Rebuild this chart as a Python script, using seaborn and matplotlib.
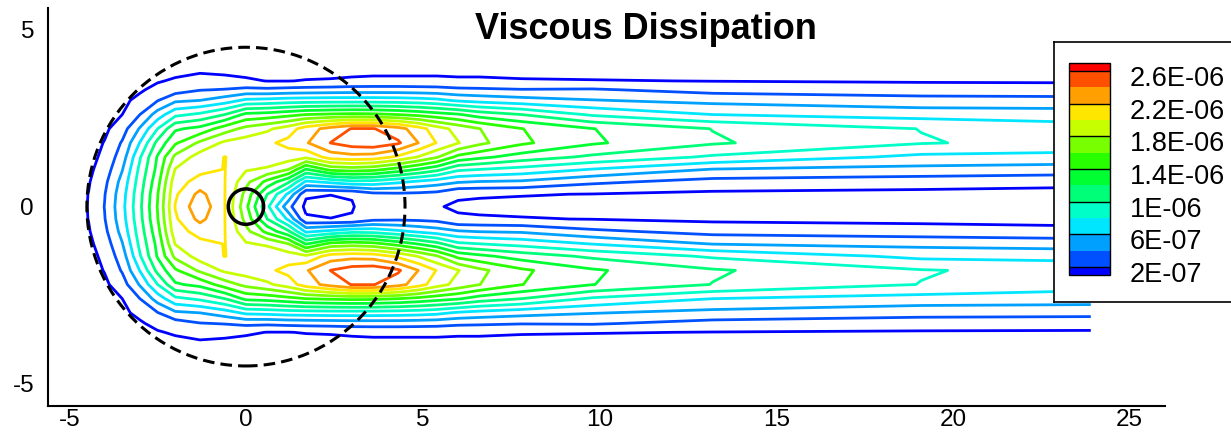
## [--Contorno de dissipacao viscosa--] ##

## Importacoes
import numpy as np
import matplotlib
matplotlib.use('Agg')
import matplotlib.pyplot as plt
import seaborn as sns
from matplotlib.colors import ListedColormap, BoundaryNorm
from matplotlib.cm import ScalarMappable
from matplotlib.patches import Circle
from matplotlib.transforms import ScaledTranslation

## Dados (metade superior, campo simetrico em y)
# valores em unidades de 1E-07
x_nodes = [-6.0, -4.9, -4.45, -4.0, -3.5, -3.0, -2.5, -2.0, -1.3, -0.6, 0.0, 0.6,
           1.2, 1.7, 2.4, 3.0, 3.6, 4.3, 4.9, 5.4, 6.0, 6.6, 7.8, 9.8, 13.2, 19.1, 23.9]
y_nodes = [0.0, 0.35, 0.7, 1.05, 1.4, 1.8, 2.2, 2.6, 3.0, 3.3, 3.55, 3.8, 4.2, 4.8, 5.6]

# um perfil em y para cada estacao x
z_profiles = [
    [0.5, 0.5, 0.45, 0.45, 0.4, 0.35, 0.3, 0.3, 0.25, 0.25, 0.2, 0.2, 0.2, 0.15, 0.1],
    [1.0, 0.98, 0.9, 0.8, 0.7, 0.6, 0.5, 0.45, 0.4, 0.35, 0.3, 0.3, 0.25, 0.2, 0.15],
    [2.1, 2.05, 1.85, 1.6, 1.3, 1.1, 0.9, 0.75, 0.6, 0.5, 0.45, 0.4, 0.35, 0.25, 0.2],
    [4.05, 3.9, 3.5, 2.9, 2.5, 2.1, 1.6, 1.25, 1.0, 0.85, 0.7, 0.6, 0.5, 0.35, 0.25],
    [7.4, 7.2, 6.7, 5.9, 5.0, 4.2, 3.1, 2.0, 1.5, 1.2, 1.0, 0.85, 0.7, 0.5, 0.3],
    [11.6, 11.4, 11.0, 10.5, 9.8, 8.1, 6.2, 4.0, 2.6, 1.7, 1.3, 1.0, 0.8, 0.55, 0.35],
    [16.1, 15.9, 15.3, 14.6, 14.2, 12.6, 10.0, 6.9, 3.9, 2.7, 1.8, 1.3, 0.9, 0.6, 0.4],
    [22.1, 21.7, 21.2, 20.1, 18.5, 15.7, 13.7, 9.5, 5.6, 3.1, 2.3, 1.5, 1.0, 0.65, 0.4],
    [25.5, 24.6, 22.7, 21.5, 20.9, 18.4, 14.6, 10.4, 6.0, 3.9, 2.6, 1.9, 1.2, 0.7, 0.45],
    [22.05, 22.05, 22.05, 22.05, 22.05, 20.4, 17.0, 12.0, 7.0, 4.1, 2.6, 1.7, 1.1, 0.65, 0.4],
    [16.5, 17.3, 18.6, 20.2, 21.2, 21.0, 18.6, 14.5, 8.4, 4.5, 2.3, 1.5, 1.0, 0.6, 0.4],
    [10.5, 12.0, 15.4, 19.7, 21.3, 21.6, 19.6, 14.8, 8.6, 4.4, 1.95, 1.4, 0.95, 0.6, 0.4],
    [4.6, 7.6, 12.3, 18.0, 21.0, 22.6, 21.0, 15.4, 8.9, 4.6, 1.95, 1.3, 0.9, 0.55, 0.35],
    [1.5, 2.3, 7.6, 13.8, 20.4, 23.8, 23.0, 16.0, 9.0, 4.7, 2.1, 1.4, 0.95, 0.6, 0.35],
    [1.4, 2.05, 8.5, 16.6, 22.9, 26.05, 24.8, 16.3, 9.1, 4.8, 2.2, 1.4, 0.95, 0.6, 0.35],
    [1.9, 2.1, 9.4, 17.0, 23.3, 27.0, 26.1, 16.5, 9.1, 4.9, 2.4, 1.5, 1.0, 0.6, 0.35],
    [2.8, 3.4, 9.3, 16.6, 23.1, 27.3, 26.1, 16.4, 9.1, 4.9, 2.5, 1.6, 1.0, 0.6, 0.35],
    [3.0, 3.6, 8.4, 15.2, 21.6, 26.3, 24.8, 16.0, 9.0, 4.9, 2.5, 1.6, 1.0, 0.6, 0.35],
    [2.7, 3.5, 7.6, 13.8, 19.8, 23.9, 22.8, 15.4, 8.8, 4.8, 2.5, 1.6, 1.0, 0.6, 0.35],
    [2.1, 3.3, 7.0, 12.6, 18.2, 21.9, 20.9, 14.8, 8.5, 4.7, 2.5, 1.6, 1.0, 0.6, 0.35],
    [1.8, 2.2, 6.2, 10.4, 15.4, 20.1, 19.3, 14.2, 7.7, 4.4, 2.4, 1.5, 1.0, 0.6, 0.35],
    [1.6, 2.2, 5.9, 10.0, 14.5, 18.5, 18.05, 13.1, 7.3, 4.3, 2.4, 1.5, 1.0, 0.6, 0.35],
    [1.5, 2.1, 5.7, 9.3, 13.1, 16.36, 16.05, 12.0, 6.75, 4.1, 2.2, 1.4, 0.9, 0.55, 0.3],
    [1.4, 1.95, 4.4, 7.9, 11.6, 14.26, 14.05, 9.7, 6.1, 4.2, 2.1, 1.35, 0.9, 0.55, 0.3],
    [1.3, 1.6, 3.3, 5.9, 9.7, 12.23, 11.95, 8.0, 5.4, 3.3, 1.95, 1.3, 0.85, 0.5, 0.3],
    [1.1, 1.45, 2.9, 5.4, 7.5, 10.13, 9.95, 7.2, 4.7, 3.0, 1.8, 1.2, 0.8, 0.5, 0.3],
    [1.0, 1.25, 2.6, 5.0, 7.3, 9.3, 8.8, 7.0, 4.6, 2.9, 1.75, 1.15, 0.75, 0.5, 0.3],
]

## Niveis e cores
levels = [2, 4, 6, 8, 10, 12, 14, 16, 18, 20, 22, 24, 26]
band_edges = [1] + levels + [27]
band_colors = ['#0000ff', '#0050ff', '#00a0ff', '#00e6ff', '#00ffc8', '#00ff78', '#00ff32',
               '#28ff00', '#78ff00', '#c8ff00', '#ffe600', '#ffa000', '#ff5000', '#ff0000']
line_colors = band_colors[:len(levels)]

cbar_ticks = [2, 6, 10, 14, 18, 22, 26]
cbar_labels = ['2E-07', '6E-07', '1E-06', '1.4E-06', '1.8E-06', '2.2E-06', '2.6E-06']
x_ticks = [-5, 0, 5, 10, 15, 20, 25]
y_ticks = [-5, 0, 5]
titulo = 'Viscous Dissipation'

## Estilo
sns.set_theme(style='white')
plt.rcParams['font.family'] = ['Liberation Sans', 'DejaVu Sans']
plt.rcParams['axes.unicode_minus'] = False
plt.rcParams['text.color'] = 'black'
plt.rcParams['xtick.color'] = 'black'
plt.rcParams['ytick.color'] = 'black'
plt.rcParams['xtick.labelcolor'] = 'black'
plt.rcParams['ytick.labelcolor'] = 'black'

## Campo completo (espelhando em y)
z_up = np.array(z_profiles).T
y_arr = np.array(y_nodes)
y_full = np.concatenate([-y_arr[::-1], y_arr[1:]])
z_full = np.vstack([z_up[::-1], z_up[1:]])

## Figura
fig = plt.figure(figsize=(12.31, 4.33), dpi=100)
ax = fig.add_axes([0.039, 0.0624, 0.9074, 0.9184])

ax.contour(x_nodes, y_full, z_full, levels=levels,
           colors=line_colors, linewidths=2.0)

# Circulos
ax.add_patch(Circle((0, 0), 4.5, fill=False, ec='black', lw=2.2,
                    ls=(0, (3.8, 2.0)), zorder=5))
ax.add_patch(Circle((0, 0), 0.5, fill=False, ec='black', lw=2.5, zorder=6))

# Eixos
ax.set_xlim(-5.6, 26.0)
ax.set_ylim(-5.63, 5.6)
ax.spines['top'].set_visible(False)
ax.spines['right'].set_visible(False)
for s in ['left', 'bottom']:
    ax.spines[s].set_linewidth(1.5)
    ax.spines[s].set_color('black')
ax.set_xticks(x_ticks)
ax.set_xticklabels([str(t) for t in x_ticks])
ax.set_yticks(y_ticks)
ax.set_yticklabels([str(t) for t in y_ticks])
ax.set_xticks(np.arange(-5, 26, 1), minor=True)
ax.set_yticks(np.arange(-5, 6, 1), minor=True)
ax.tick_params(which='major', direction='in', length=6.5, width=1.1,
               labelsize=17.5, color='black')
ax.tick_params(axis='x', which='major', pad=2)
ax.tick_params(axis='y', which='major', pad=10)
ax.tick_params(which='minor', direction='in', length=4, width=1.0, color='black')
ax.grid(False)

# Titulo
fig.text(0.5248, 0.909, titulo, ha='center', va='baseline',
         fontsize=26, fontweight='bold', color='black')

## Legenda (barra de cores)
frame = fig.add_axes([0.8562, 0.3025, 0.15, 0.6012])
frame.set_xticks([])
frame.set_yticks([])
frame.set_facecolor('white')
for s in frame.spines.values():
    s.set_linewidth(1.2)
    s.set_color('black')
frame.set_zorder(3)

cax = fig.add_axes([0.8686, 0.3649, 0.0331, 0.4896])
cax.set_zorder(4)
cmap = ListedColormap(band_colors)
norm = BoundaryNorm(band_edges, cmap.N)
cb = fig.colorbar(ScalarMappable(norm=norm, cmap=cmap), cax=cax,
                  ticks=cbar_ticks, spacing='proportional')
cb.minorticks_off()
cb.outline.set_linewidth(1.0)
cb.outline.set_edgecolor('black')
for t in cbar_ticks:
    cax.axhline(t, color='black', lw=1.0)
cax.set_yticklabels(cbar_labels)
cax.tick_params(which='both', length=0, labelsize=19.5, pad=14)
desloc = ScaledTranslation(0, -0.05, fig.dpi_scale_trans)
for lab in cax.get_yticklabels():
    lab.set_transform(lab.get_transform() + desloc)

# Salvando
fig.savefig('out.png', dpi=100)
